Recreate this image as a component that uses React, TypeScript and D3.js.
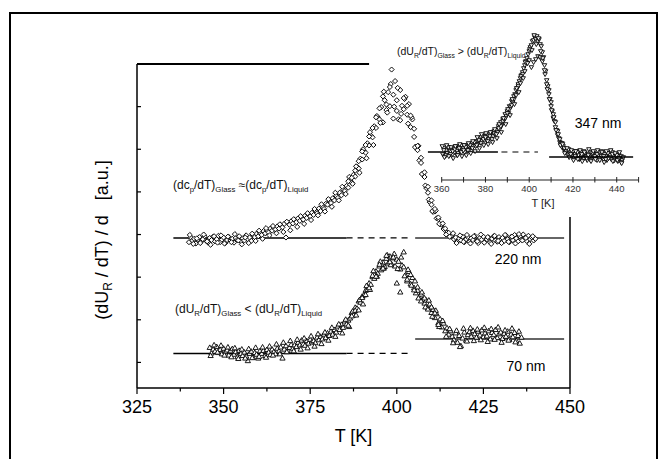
import React from "react";
import * as d3 from "d3";

// ---------- data (a.u.) ----------
// 220 nm film, diamonds, T = 340 ... 440 K every 0.5 K
const t220Start = 340;
const t220Step = 0.5;
const values220 = [
  28.2, 29.3, 28.6, 29.0, 27.9, 28.8, 29.4, 28.3, 28.9, 29.6,
  28.5, 28.1, 29.2, 28.7, 29.5, 28.4, 28.9, 29.7, 28.2, 28.8,
  29.3, 28.0, 28.7, 29.4, 28.5, 29.0, 28.1, 29.2, 28.8, 29.6,
  28.4, 29.1, 28.6, 29.8, 28.9, 29.3, 28.5, 29.9, 29.4, 30.2,
  29.6, 30.4, 29.9, 30.8, 30.3, 31.0, 30.5, 31.4, 30.9, 31.6,
  31.2, 31.9, 31.4, 32.2, 31.7, 32.5, 29.3, 32.8, 32.3, 33.1,
  32.6, 33.4, 32.9, 33.8, 33.2, 34.1, 33.5, 34.4, 33.9, 34.7,
  34.3, 35.1, 34.6, 35.6, 35.0, 36.1, 35.5, 36.6, 36.0, 37.2,
  37.0, 37.9, 37.4, 38.5, 38.0, 39.1, 38.6, 39.8, 39.2, 40.5,
  40.2, 41.4, 41.0, 42.6, 42.2, 44.0, 43.6, 45.9, 45.5, 47.8,
  47.6, 49.6, 49.2, 51.4, 50.9, 53.2, 52.8, 55.4, 55.0, 57.5,
  57.0, 59.9, 56.3, 61.5, 59.2, 63.4, 60.1, 68.7, 62.8, 66.0,
  61.5, 57.0, 63.9, 60.2, 59.4, 62.3, 58.1, 60.6, 55.2, 57.0,
  52.9, 50.6, 49.8, 47.4, 46.8, 44.1, 43.5, 40.9, 39.8, 37.6,
  37.0, 35.3, 35.4, 33.8, 33.6, 32.4, 32.3, 31.3, 31.4, 30.5,
  30.4, 29.5, 29.8, 28.9, 29.3, 28.4, 29.0, 28.6, 29.5, 28.2,
  28.9, 29.4, 28.3, 29.1, 28.7, 29.7, 28.5, 28.0, 29.2, 28.8,
  29.5, 28.4, 28.9, 29.3, 28.1, 29.0, 29.6, 28.6, 28.3, 29.4,
  28.8, 29.2, 28.5, 29.8, 28.9, 28.2, 29.4, 28.7, 29.9, 29.1,
  28.4, 29.6, 28.8, 30.0, 29.2, 28.5, 29.7, 28.9, 29.3, 28.6,
  29.0,
];
// second scan, T = 340.25 ... 439.25 K every 1 K
const t220Scan2Start = 340.25;
const values220Scan2 = [
  29.9, 27.8, 29.1, 28.0, 30.0, 28.4, 27.6, 29.6, 28.1, 29.8,
  27.9, 29.5, 28.2, 30.1, 28.6, 27.7, 29.3, 28.0, 30.2, 28.5,
  30.9, 29.0, 31.5, 29.8, 32.0, 30.3, 32.4, 30.6, 33.0, 31.0,
  33.6, 31.8, 34.3, 32.5, 35.0, 33.4, 36.0, 34.5, 37.1, 35.4,
  38.3, 36.5, 39.8, 38.0, 41.2, 39.5, 43.5, 41.9, 46.0, 44.5,
  50.0, 47.9, 54.0, 51.0, 57.8, 56.2, 63.5, 58.6, 65.3, 60.0,
  64.4, 58.3, 61.8, 56.0, 57.5, 50.5, 50.8, 44.2, 41.5, 38.2,
  35.5, 35.6, 32.5, 32.6, 30.0, 29.5, 30.3, 28.0, 29.8, 28.3,
  29.9, 27.9, 29.6, 28.4, 30.0, 28.1, 29.4, 27.8, 29.7, 28.5,
  28.0, 29.9, 28.3, 29.5, 27.9, 30.1, 28.6, 29.2, 27.8, 29.6,
];
// third scan around the peak, T = 386 ... 412 K every 1 K
const t220ExtraStart = 386;
const values220Extra = [
  42.5, 43.3, 45.0, 47.2, 49.5, 51.0, 53.0, 55.0, 57.5, 59.6,
  62.4, 60.5, 64.6, 57.2, 59.0, 56.8, 62.0, 60.2, 57.9, 54.8,
  50.8, 48.0, 44.6, 41.2, 38.0, 36.0, 34.0,
];

// 70 nm film, triangles, T = 346 ... 436 K every 0.5 K
const t70Start = 346;
const t70Step = 0.5;
const values70 = [
  3.4, 2.1, 3.0, 2.5, 3.6, 2.2, 2.9, 1.9, 3.2, 2.4,
  2.8, 1.6, 2.6, 3.1, 1.8, 2.4, 1.2, 2.7, 2.0, 1.5,
  2.3, 1.4, 0.3, 2.0, 2.5, 1.1, 2.2, 1.8, 0.9, 2.6,
  2.0, 2.7, 1.5, 2.9, 2.3, 1.7, 3.0, 2.4, 1.9, 3.2,
  2.6, 3.5, 0.9, 3.0, 3.8, 2.7, 3.4, 4.1, 3.2, 4.0,
  3.6, 4.6, 4.0, 5.1, 4.2, 3.9, 5.0, 4.4, 5.3, 4.7,
  5.0, 4.5, 5.8, 5.2, 6.0, 5.4, 6.5, 5.7, 6.8, 6.2,
  7.2, 6.5, 7.6, 7.0, 8.4, 7.6, 8.8, 8.1, 9.6, 8.9,
  9.8, 10.3, 11.6, 11.0, 12.8, 12.6, 14.3, 14.0, 15.4, 15.7,
  16.8, 17.0, 18.5, 18.2, 20.0, 19.6, 21.3, 20.8, 22.5, 21.6,
  23.4, 22.4, 24.3, 23.2, 24.8, 23.0, 24.4, 22.5, 24.1, 23.6,
  21.8, 22.7, 25.8, 20.4, 19.0, 21.2, 18.3, 19.8, 17.4, 16.2,
  16.8, 15.2, 15.9, 14.6, 13.8, 14.5, 12.8, 13.6, 11.6, 12.3,
  10.4, 11.3, 9.2, 10.1, 8.2, 9.1, 7.3, 8.0, 6.5, 7.3,
  6.0, 5.2, 6.8, 4.6, 6.2, 3.8, 5.6, 7.0, 5.1, 6.4,
  7.1, 6.0, 7.4, 6.6, 5.8, 7.2, 6.3, 7.5, 5.9, 6.8,
  6.1, 7.3, 5.4, 6.9, 6.4, 7.6, 5.7, 6.6, 7.0, 5.5,
  6.7, 6.0, 7.2, 5.3, 6.5, 5.9, 6.9, 5.0, 6.2, 4.4,
  5.8,
];
// second scan, T = 346.25 ... 435.25 K every 1 K
const t70Scan2Start = 346.25;
const values70Scan2 = [
  1.5, 4.0, 2.3, 3.9, 1.6, 3.5, 1.2, 3.3, 0.8, 3.0,
  0.9, 3.1, 1.0, 3.4, 1.3, 3.5, 1.1, 3.7, 1.6, 4.2,
  1.9, 4.6, 2.4, 5.0, 2.6, 5.3, 3.0, 5.6, 3.3, 6.1,
  3.7, 6.6, 4.3, 7.0, 5.1, 8.1, 6.0, 8.9, 6.8, 10.0,
  8.3, 11.9, 11.0, 14.6, 13.6, 17.9, 17.0, 21.4, 20.1, 23.6,
  22.0, 25.1, 22.8, 25.4, 21.9, 24.6, 20.2, 21.7, 18.0, 19.0,
  15.0, 16.4, 12.9, 14.5, 10.7, 12.1, 8.3, 9.7, 6.0, 7.8,
  4.5, 7.4, 3.6, 7.9, 4.9, 8.0, 5.0, 7.7, 5.2, 8.1,
  4.8, 7.8, 5.3, 8.2, 4.6, 7.5, 5.1, 7.9, 4.7, 7.2,
];
const t70ExtraStart = 386;
const values70Extra = [
  8.6, 10.8, 12.1, 12.2, 15.1, 15.8, 17.4, 20.3, 20.1, 22.9,
  22.0, 25.0, 23.5, 24.6, 18.5, 16.4, 22.3, 19.4, 20.5, 16.9,
  17.6, 14.3, 15.0, 12.4, 12.9, 11.5, 8.8,
];

// 347 nm film (inset), inverted triangles
const tInsetAStart = 360.5;
const tInsetAStep = 0.5;
const insetScanA = [
  2.6, 3.2, 2.4, 3.0, 2.7, 3.3, 2.5, 2.9, 3.1,
  2.6, 3.2, 2.8, 3.4, 2.9, 2.7, 3.3, 2.9, 3.5, 3.0,
  3.2, 2.8, 3.5, 3.1, 3.4, 3.0, 3.6, 3.3, 3.7, 3.4,
  3.8, 3.4, 3.9, 3.6, 4.2, 3.8, 4.3, 3.9, 4.4, 4.0,
  4.4, 4.0, 4.5, 4.1, 4.6, 4.3, 4.8, 4.4, 4.9, 4.6,
  5.0, 4.8, 5.4, 5.1, 5.8, 5.5, 6.1, 6.0, 6.6, 6.4,
  6.9, 6.7, 7.4, 7.3, 7.9, 7.8, 8.4, 8.6, 9.0, 9.2,
  9.6, 9.9, 10.2, 10.5, 10.8, 11.2, 11.5, 11.9, 12.2, 12.6,
  12.9, 13.3, 13.5, 13.9, 14.0, 14.3, 14.1, 14.4, 13.9, 14.1,
  13.6, 13.4, 12.8, 12.3, 11.5, 10.9, 10.0, 9.4, 8.6, 8.1,
  7.4, 6.9, 6.2, 5.9, 5.3, 5.0, 4.5, 4.2, 3.8, 3.7,
  3.3, 3.4, 3.0, 2.8, 3.1, 2.6, 2.9, 2.5, 2.8, 2.4,
  2.7, 2.2, 2.6, 2.9, 2.3, 2.5, 2.1, 2.8, 2.4, 2.6,
  2.2, 2.7, 2.4, 2.0, 2.6, 2.3, 2.8, 2.1, 2.5, 2.7,
  2.3, 2.6, 2.0, 2.5, 2.8, 2.2, 2.4, 2.7, 2.1, 2.6,
  2.4, 2.0, 2.7, 2.3, 2.5, 2.1, 2.8, 2.4, 2.2, 2.6,
  2.3, 1.9, 2.5, 2.1, 2.4, 2.0, 2.3,
];
const tInsetBStart = 361;
const insetScanB = [
  3.0, 2.5, 3.3, 2.6, 2.9, 3.1, 2.5, 3.2, 2.8, 3.0,
  3.3, 3.0, 3.5, 3.2, 3.8, 3.5, 4.0, 3.7, 4.1, 4.3,
  3.9, 4.4, 4.1, 4.7, 4.6, 5.2, 5.4, 5.9, 6.2, 6.7,
  7.1, 7.5, 8.1, 8.5, 9.4, 9.7, 10.6, 10.9, 11.7, 12.0,
  11.3, 11.8, 12.1, 12.4, 12.3, 11.9, 11.0, 9.6, 9.0, 7.8,
  6.6, 5.8, 4.9, 4.1, 3.7, 3.2, 2.9, 3.1, 2.6, 2.9,
  2.4, 2.8, 2.2, 2.6, 2.9, 2.3, 2.5, 2.0, 2.7, 2.4,
  2.6, 2.2, 2.9, 2.4, 2.1, 2.7, 2.3, 2.6, 2.0, 2.5,
  2.2, 1.8,
];
const tInsetCStart = 360.25;
const insetScanC = [
  3.4, 2.3, 3.5, 2.4, 3.3, 2.2, 3.4, 2.5, 3.6, 2.4,
  3.5, 2.5, 3.7, 2.7, 3.9, 2.9, 4.3, 3.2, 4.6, 3.5,
  4.7, 3.6, 4.8, 3.8, 5.1, 4.2, 5.6, 4.8, 6.2, 5.6,
  7.1, 6.5, 8.1, 7.6, 9.2, 8.8, 10.4, 10.2, 11.8, 11.7,
  13.1, 13.0, 14.5, 13.6, 14.2, 12.9, 12.2, 10.6, 9.1, 8.1,
  7.0, 6.3, 5.0, 4.6, 3.5, 3.6, 2.7, 3.2, 2.3, 3.0,
  2.0, 2.9, 2.1, 3.0, 1.9, 2.8, 2.2, 3.1, 1.9, 2.9,
  2.1, 3.0, 2.0, 2.8, 1.8, 2.9, 2.2, 3.0, 1.9, 2.7,
  2.0, 2.8, 1.7,
];

// baselines: [glass level, liquid level]
const baseline220 = [29.2, 29.2];
const baseline70 = [2.1, 5.5];
const baseline347 = [2.8, 2.3];
// temperature spans of the baseline segments
const mainGlassT = [335.5, 385.5];
const mainDashT = [385.5, 404.3];
const mainLiquidT = [405.3, 448.3];
const insetGlassT = [353.7, 385.7];
const insetDashT = [387.3, 404.0];
const insetLiquidT = [409.1, 447.5];

// axes
const xMajorTicks = [325, 350, 375, 400, 425, 450];
const xMinorTicks = [337.5, 362.5, 387.5, 412.5, 437.5];
const yTicks = [0, 10, 20, 30, 40, 50, 60];
const insetTicks = [360, 370, 380, 390, 400, 410, 420, 430, 440, 450];
const insetLabels = [360, 380, 400, 420, 440];

// ---------- layout ----------
const W = 663;
const H = 459;
const FONT = "'Liberation Sans', Arial, Helvetica, sans-serif";

const x = d3.scaleLinear().domain([325, 450]).range([137, 570]);
const y = d3.scaleLinear().domain([-6, 70]).range([388, 64]);
const xi = d3.scaleLinear().domain([360, 450]).range([441.7, 638.6]);
const yi = d3.scaleLinear().domain([0, 15]).range([180, 30]);

const toPts = (start: number, step: number, vals: number[]) =>
  vals.map((v, i) => ({ t: start + i * step, v }));

const diamondPath = d3.symbol(d3.symbolSquare, 13)() as string;
const triPath = d3.symbol(d3.symbolTriangle, 12)() as string;
const triSmallPath = d3.symbol(d3.symbolTriangle, 8.5)() as string;

export default function App() {
  const p220 = toPts(t220Start, t220Step, values220)
    .concat(toPts(t220Scan2Start, 1, values220Scan2))
    .concat(toPts(t220ExtraStart, 1, values220Extra));
  const p70 = toPts(t70Start, t70Step, values70)
    .concat(toPts(t70Scan2Start, 1, values70Scan2))
    .concat(toPts(t70ExtraStart, 1, values70Extra));
  const pInset = toPts(tInsetAStart, tInsetAStep, insetScanA)
    .concat(toPts(tInsetBStart, 1, insetScanB))
    .concat(toPts(tInsetCStart, 1, insetScanC));

  const baselineSegs = (levels: number[]) => (
    <g>
      <line x1={x(mainGlassT[0])} x2={x(mainGlassT[1])} y1={y(levels[0])} y2={y(levels[0])} stroke="#000" strokeWidth={1.5} />
      <line x1={x(mainDashT[0])} x2={x(mainDashT[1])} y1={y(levels[0])} y2={y(levels[0])} stroke="#000" strokeWidth={1.3} strokeDasharray="6,5" />
      <line x1={x(mainLiquidT[0])} x2={x(mainLiquidT[1])} y1={y(levels[1])} y2={y(levels[1])} stroke="#666" strokeWidth={2} />
    </g>
  );

  const sub = 7.8;
  return (
    <svg
      width={W}
      height={H}
      style={{ position: "absolute", left: 0, top: 0, background: "#fff" }}
      fontFamily={FONT}
    >
      <rect x={0} y={0} width={W} height={H} fill="#fff" />
      {/* outer frame */}
      <rect x={10} y={13} width={647} height={470} fill="none" stroke="#000" strokeWidth={2} />

      {/* main axes */}
      <line x1={x(325)} x2={x(325)} y1={y(70)} y2={y(-6)} stroke="#000" strokeWidth={1.5} />
      <line x1={x(325)} x2={x(392)} y1={y(70)} y2={y(70)} stroke="#000" strokeWidth={2} />
      <line x1={x(450)} x2={x(450)} y1={y(34.1)} y2={y(-6)} stroke="#000" strokeWidth={1.5} />
      <line x1={x(325)} x2={x(450)} y1={y(-6)} y2={y(-6)} stroke="#000" strokeWidth={1.5} />
      {xMajorTicks.map((t) => (
        <g key={"xm" + t}>
          <line x1={x(t)} x2={x(t)} y1={y(-6)} y2={y(-6) + 6} stroke="#000" strokeWidth={1.2} />
          <text x={x(t)} y={413} fontSize={18} textAnchor="middle" fill="#000">
            {t}
          </text>
        </g>
      ))}
      {xMinorTicks.map((t) => (
        <line key={"xn" + t} x1={x(t)} x2={x(t)} y1={y(-6)} y2={y(-6) + 3.5} stroke="#000" strokeWidth={1.2} />
      ))}
      {yTicks.map((v) => (
        <line key={"y" + v} x1={x(325)} x2={x(325) + 4} y1={y(v)} y2={y(v)} stroke="#000" strokeWidth={1.2} />
      ))}
      <text x={353.5} y={442} fontSize={18} textAnchor="middle">
        T [K]
      </text>
      <text transform="translate(108,240) rotate(-90)" fontSize={18} textAnchor="middle">
        <tspan>(dU</tspan>
        <tspan fontSize={12} dy={4}>R</tspan>
        <tspan dy={-4}>{" / dT) / d\u00a0\u00a0\u00a0[a.u.]"}</tspan>
      </text>

      {/* baselines */}
      {baselineSegs(baseline220)}
      {baselineSegs(baseline70)}

      {/* 70 nm data */}
      {p70.map((p, i) => (
        <path key={"s70" + i} d={triPath} transform={`translate(${x(p.t)},${y(p.v)})`} fill="#fff" stroke="#000" strokeWidth={0.9} />
      ))}
      {/* 220 nm data */}
      {p220.map((p, i) => (
        <path key={"s220" + i} d={diamondPath} transform={`translate(${x(p.t)},${y(p.v)}) rotate(45)`} fill="#fff" stroke="#000" strokeWidth={0.9} />
      ))}

      {/* inset */}
      <line x1={xi(360)} x2={xi(450)} y1={yi(0)} y2={yi(0)} stroke="#222" strokeWidth={1.2} />
      {insetTicks.map((t) => (
        <line key={"it" + t} x1={xi(t)} x2={xi(t)} y1={yi(0) - 3} y2={yi(0) + 2.5} stroke="#222" strokeWidth={1} />
      ))}
      {insetLabels.map((t) => (
        <text key={"il" + t} x={xi(t)} y={192} fontSize={9.5} textAnchor="middle" fill="#333">
          {t}
        </text>
      ))}
      <text x={543} y={207} fontSize={11} textAnchor="middle" fill="#222">
        T [K]
      </text>
      <line x1={xi(insetGlassT[0])} x2={xi(insetGlassT[1])} y1={yi(baseline347[0])} y2={yi(baseline347[0])} stroke="#000" strokeWidth={1.3} />
      <line x1={xi(insetDashT[0])} x2={xi(insetDashT[1])} y1={yi(baseline347[0])} y2={yi(baseline347[0])} stroke="#000" strokeWidth={1.2} strokeDasharray="6,5" />
      {pInset.map((p, i) => (
        <path key={"si" + i} d={triSmallPath} transform={`translate(${xi(p.t)},${yi(p.v)}) rotate(180)`} fill="#fff" stroke="#000" strokeWidth={0.9} />
      ))}
      <line x1={xi(insetLiquidT[0])} x2={xi(insetLiquidT[1])} y1={yi(baseline347[1])} y2={yi(baseline347[1])} stroke="#000" strokeWidth={1.3} />

      {/* labels */}
      <text x={598} y={128} fontSize={14} textAnchor="middle">347 nm</text>
      <text x={518} y={264} fontSize={14} textAnchor="middle">220 nm</text>
      <text x={526} y={371} fontSize={14} textAnchor="middle">70 nm</text>

      {/* annotations */}
      <text x={397} y={55} fontSize={10.5} fill="#111">
        <tspan>(dU</tspan>
        <tspan fontSize={6.8} dy={2.5}>R</tspan>
        <tspan dy={-2.5}>/dT)</tspan>
        <tspan fontSize={6.8} dy={2.5}>Glass</tspan>
        <tspan dy={-2.5}> &gt; (dU</tspan>
        <tspan fontSize={6.8} dy={2.5}>R</tspan>
        <tspan dy={-2.5}>/dT)</tspan>
        <tspan fontSize={6.8} dy={2.5}>Liquid</tspan>
      </text>
      <text x={173} y={189} fontSize={12} fill="#111">
        <tspan>(dc</tspan>
        <tspan fontSize={sub} dy={3}>p</tspan>
        <tspan dy={-3}>/dT)</tspan>
        <tspan fontSize={sub} dy={3}>Glass</tspan>
        <tspan dy={-3}> ≈(dc</tspan>
        <tspan fontSize={sub} dy={3}>p</tspan>
        <tspan dy={-3}>/dT)</tspan>
        <tspan fontSize={sub} dy={3}>Liquid</tspan>
      </text>
      <text x={175} y={313} fontSize={12} fill="#111">
        <tspan>(dU</tspan>
        <tspan fontSize={sub} dy={3}>R</tspan>
        <tspan dy={-3}>/dT)</tspan>
        <tspan fontSize={sub} dy={3}>Glass</tspan>
        <tspan dy={-3}> &lt; (dU</tspan>
        <tspan fontSize={sub} dy={3}>R</tspan>
        <tspan dy={-3}>/dT)</tspan>
        <tspan fontSize={sub} dy={3}>Liquid</tspan>
      </text>
    </svg>
  );
}
